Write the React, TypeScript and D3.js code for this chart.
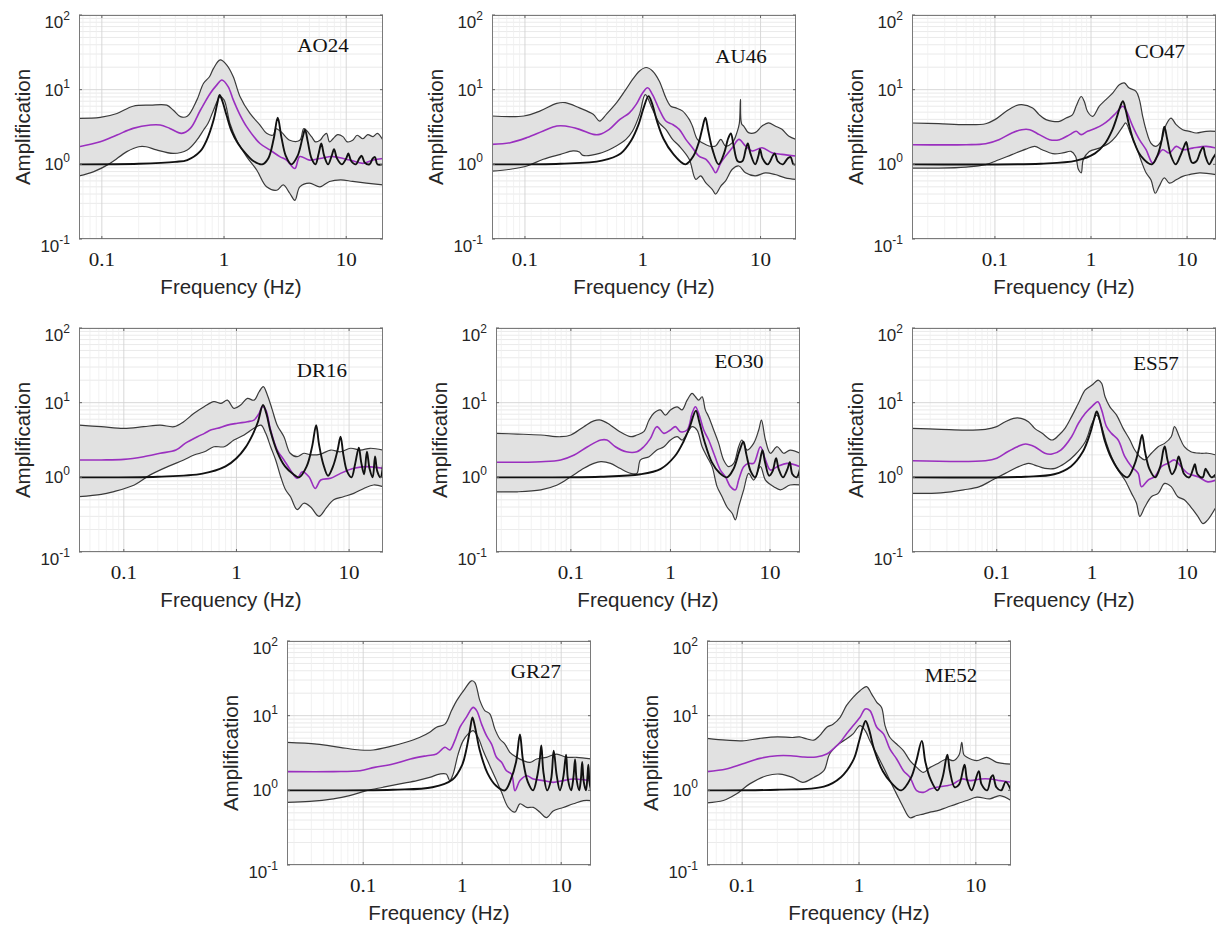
import React from "react";
import * as d3 from "d3";

type Pt = [number, number];

// ---------- shared axis content ----------
const stationNames = ["AO24", "AU46", "CO47", "DR16", "EO30", "ES57", "GR27", "ME52"];
const xTickValues = [0.1, 1, 10];
const xTickLabels = ["0.1", "1", "10"];
const yTickExponents = [-1, 0, 1, 2];
const yDomain: [number, number] = [0.1, 100];
const xDomainStarts = [0.065, 0.0525, 0.0137, 0.04, 0.0177, 0.0129, 0.017, 0.05];
const xDomainEnd = 20;
const xAxisTitle = "Frequency (Hz)";
const yAxisTitle = "Amplification";

// ---------- AO24 ----------
const AO24_upper: Pt[] = [[0.065,4.13],[0.097,4.25],[0.133,4.8],[0.18,6.0],[0.25,6.2],[0.34,6.2],[0.385,5.3],[0.44,4.35],[0.5,4.4],[0.6,7.3],[0.68,12.2],[0.76,14.9],[0.82,19.3],[0.93,25],[1.05,21.5],[1.19,14.9],[1.35,8.1],[1.63,4.8],[1.97,3.36],[2.23,2.6],[2.53,2.47],[2.65,3.0],[2.95,2.7],[3.45,2.1],[4.17,2.1],[4.5,3.0],[5.2,2.35],[5.6,2.0],[6.1,2.1],[6.5,2.4],[6.9,2.6],[7.3,2.0],[7.8,2.2],[8.5,2.5],[9.4,2.35],[10.2,2.0],[11.3,2.1],[12.3,2.45],[13.7,2.2],[15,2.5],[16.6,2.35],[18,2.6],[20,2.1]];
const AO24_lower: Pt[] = [[0.065,0.70],[0.086,0.80],[0.117,1.03],[0.16,1.48],[0.2,1.72],[0.23,1.72],[0.28,1.56],[0.385,1.40],[0.5,1.56],[0.6,2.12],[0.68,2.88],[0.74,3.54],[0.82,5.3],[0.93,8.06],[1.0,7.3],[1.12,3.5],[1.27,2.1],[1.53,1.27],[1.85,0.84],[2.23,0.5],[2.7,0.45],[3.05,0.53],[3.45,0.41],[3.8,0.33],[4.17,0.5],[5.0,0.56],[6.1,0.5],[7.3,0.59],[9.0,0.62],[11.3,0.59],[14.6,0.56],[20,0.53]];
const AO24_median: Pt[] = [[0.065,1.72],[0.097,2.0],[0.133,2.47],[0.18,3.03],[0.25,3.36],[0.3,3.36],[0.36,3.03],[0.45,2.6],[0.53,3.03],[0.64,5.3],[0.77,8.9],[0.87,11.5],[0.96,13.5],[1.08,11],[1.19,7.3],[1.35,4.6],[1.53,3.2],[1.97,1.9],[2.37,1.56],[2.86,1.27],[3.25,1.14],[3.8,0.88],[4.17,1.27],[5.0,1.14],[6.1,1.2],[7.8,1.27],[10.7,1.14],[13.7,1.03],[16.6,1.14],[20,1.2]];
const AO24_theory: Pt[] = [[0.065,1.0],[0.2,1.02],[0.4,1.08],[0.5,1.14],[0.64,1.5],[0.72,2.1],[0.82,3.9],[0.88,6.5],[0.92,8.5],[0.97,7],[1.05,4.5],[1.15,2.8],[1.3,1.9],[1.5,1.4],[1.75,1.1],[2.05,1.0],[2.3,1.2],[2.55,2.2],[2.75,4.2],[2.95,2.3],[3.2,1.3],[3.55,1.0],[4.0,1.3],[4.4,2.3],[4.6,2.9],[4.85,2.0],[5.2,1.2],[5.6,1.0],[5.95,1.4],[6.25,1.9],[6.6,1.3],[7.1,1.0],[7.6,1.3],[7.95,1.6],[8.4,1.2],[9.2,1.0],[10.0,1.2],[10.4,1.4],[11,1.1],[12,1.0],[12.8,1.2],[13.4,1.3],[14.2,1.05],[15.5,1.0],[16.5,1.2],[17.2,1.25],[18,1.0],[20,1.0]];

// ---------- AU46 ----------
const AU46_upper: Pt[] = [[0.0525,4.44],[0.098,4.44],[0.135,5.2],[0.186,6.55],[0.22,6.7],[0.29,5.7],[0.38,4.67],[0.43,3.8],[0.49,4.67],[0.6,6.7],[0.72,10.1],[0.82,13.7],[0.94,17.8],[1.07,19.8],[1.21,17.8],[1.38,13.1],[1.57,7.8],[1.73,6.0],[1.91,5.7],[2.17,5.2],[2.48,4.0],[2.64,3.26],[2.91,2.16],[3.2,1.95],[3.65,1.76],[4.15,1.76],[4.6,2.16],[5.05,1.76],[5.76,1.95],[6.3,2.66],[6.6,3.5],[6.75,7.4],[6.9,3.5],[7.2,3.26],[7.9,2.66],[9.0,2.66],[10.3,3.26],[11.7,3.6],[13.3,3.26],[15.2,2.94],[17.3,2.4],[20,2.16]];
const AU46_lower: Pt[] = [[0.0525,0.81],[0.075,0.86],[0.104,0.95],[0.143,1.17],[0.2,1.36],[0.256,1.51],[0.29,1.46],[0.31,1.32],[0.43,1.4],[0.56,1.67],[0.72,2.16],[0.82,2.8],[0.94,4.67],[1.05,8.6],[1.21,5.45],[1.38,3.6],[1.57,2.94],[1.79,2.16],[2.04,1.76],[2.48,1.17],[2.82,0.63],[3.1,0.7],[3.42,0.57],[3.9,0.46],[4.15,0.4],[4.6,0.51],[5.05,0.6],[5.76,0.86],[6.55,0.95],[7.45,0.77],[9.0,0.7],[11,0.77],[13.3,0.73],[16.2,0.66],[20,0.63]];
const AU46_median: Pt[] = [[0.0525,1.85],[0.075,1.95],[0.104,2.28],[0.143,2.8],[0.186,3.26],[0.22,3.26],[0.29,2.94],[0.38,2.52],[0.43,2.52],[0.52,2.94],[0.64,4.0],[0.77,4.9],[0.88,6.35],[1.0,9.1],[1.1,10.6],[1.21,8.6],[1.38,5.45],[1.57,3.8],[1.79,3.43],[2.04,2.94],[2.32,2.16],[2.64,1.67],[3.0,1.29],[3.42,1.17],[3.9,0.9],[4.15,0.77],[4.6,1.05],[5.05,1.29],[5.76,1.67],[6.55,2.16],[7.45,1.76],[8.5,1.51],[10.3,1.67],[12.5,1.43],[15.2,1.36],[20,1.29]];
const AU46_theory: Pt[] = [[0.0525,1.0],[0.2,1.02],[0.45,1.12],[0.65,1.4],[0.8,2.1],[0.92,3.4],[1.02,5.8],[1.12,8.2],[1.2,6.5],[1.32,3.8],[1.5,2.2],[1.8,1.4],[2.3,1.0],[2.7,1.3],[3.0,2.0],[3.2,3.0],[3.4,4.2],[3.6,2.8],[3.9,1.6],[4.4,1.0],[4.9,1.4],[5.3,2.2],[5.6,2.6],[5.9,1.8],[6.4,1.1],[7.0,1.1],[7.5,1.6],[7.8,1.9],[8.2,1.4],[9.0,1.0],[9.6,1.3],[9.9,1.6],[10.4,1.2],[11.5,1.0],[12.7,1.3],[13.2,1.4],[14,1.1],[15.5,1.0],[17,1.2],[18,1.25],[19,1.0],[20,1.0]];

// ---------- CO47 ----------
const CO47_upper: Pt[] = [[0.0137,3.58],[0.026,3.5],[0.05,3.4],[0.08,3.5],[0.1,3.97],[0.13,5.1],[0.165,6.1],[0.19,6.3],[0.247,5.67],[0.29,4.6],[0.34,3.97],[0.4,3.77],[0.47,3.77],[0.55,4.17],[0.64,4.6],[0.7,6.0],[0.79,8.1],[0.85,7.0],[0.92,5.1],[1.04,4.4],[1.22,6.0],[1.43,7.35],[1.68,9.0],[1.97,11.6],[2.22,12.3],[2.5,10.5],[2.94,9.5],[3.19,7.35],[3.45,4.4],[3.74,2.9],[4.2,1.93],[4.74,1.74],[5.35,2.03],[6.05,3.4],[6.8,4.17],[7.7,3.4],[9.0,2.9],[10.6,2.77],[12.4,2.63],[15.8,2.77],[20,2.77]];
const CO47_lower: Pt[] = [[0.0137,0.89],[0.026,0.89],[0.05,0.92],[0.08,0.99],[0.11,1.15],[0.15,1.35],[0.21,1.6],[0.26,1.74],[0.31,1.57],[0.4,1.39],[0.51,1.42],[0.62,1.49],[0.69,1.28],[0.74,0.85],[0.79,0.77],[0.83,1.15],[0.96,1.49],[1.22,1.65],[1.55,1.93],[1.82,2.37],[2.14,3.2],[2.3,3.58],[2.6,2.5],[2.94,1.74],[3.3,1.15],[3.74,0.77],[4.2,0.62],[4.67,0.41],[5.13,0.51],[5.8,0.66],[6.55,0.56],[7.7,0.62],[9,0.69],[10.6,0.73],[13.5,0.77],[20,0.73]];
const CO47_median: Pt[] = [[0.0137,1.83],[0.05,1.83],[0.08,1.89],[0.11,2.14],[0.15,2.63],[0.19,2.91],[0.23,2.91],[0.29,2.5],[0.37,2.14],[0.47,2.14],[0.6,2.5],[0.7,2.77],[0.79,2.5],[0.92,2.77],[1.13,3.06],[1.32,3.4],[1.55,3.97],[1.82,4.87],[2.14,6.0],[2.3,5.4],[2.72,3.23],[3.19,2.14],[3.74,1.57],[4.38,1.04],[4.9,1.28],[5.57,1.57],[6.55,1.42],[7.7,1.74],[9,1.57],[11.4,1.65],[15.8,1.74],[20,1.65]];
const CO47_theory: Pt[] = [[0.0137,1.0],[0.3,1.02],[0.7,1.12],[1.1,1.4],[1.4,1.9],[1.65,2.8],[1.85,4.2],[2.0,5.8],[2.15,7.0],[2.3,5.3],[2.5,3.3],[2.8,2.0],[3.3,1.3],[4.3,1.0],[4.9,1.3],[5.4,2.0],[5.8,3.2],[6.2,2.2],[6.8,1.3],[7.6,1.0],[8.5,1.3],[9.4,1.8],[9.8,2.0],[10.3,1.5],[11.3,1.05],[12.5,1.1],[13.8,1.5],[14.7,1.7],[15.5,1.3],[17,1.0],[18.5,1.2],[20,1.4]];

// ---------- DR16 ----------
const DR16_upper: Pt[] = [[0.04,5.0],[0.063,4.77],[0.1,4.53],[0.15,4.77],[0.21,5.0],[0.28,4.77],[0.34,5.56],[0.42,7.2],[0.52,8.9],[0.63,10.3],[0.73,9.8],[0.83,10.8],[0.95,8.4],[1.09,9.3],[1.25,11.4],[1.43,10.8],[1.59,14.0],[1.73,16.4],[1.88,12.7],[2.08,8.0],[2.3,5.0],[2.64,3.5],[3.0,2.1],[3.46,1.89],[3.97,2.1],[4.56,2.0],[5.6,2.05],[6.85,2.32],[8.4,2.2],[10.3,2.45],[12.6,2.32],[15.4,2.45],[20,2.32]];
const DR16_lower: Pt[] = [[0.04,0.55],[0.063,0.59],[0.08,0.64],[0.124,0.79],[0.17,1.07],[0.245,1.39],[0.34,1.71],[0.42,1.99],[0.52,2.2],[0.63,2.57],[0.78,2.57],[0.95,3.16],[1.17,3.69],[1.43,4.53],[1.65,5.0],[1.82,3.88],[2.01,2.57],[2.23,1.71],[2.47,1.02],[2.73,0.68],[3.02,0.55],[3.46,0.37],[3.97,0.45],[4.56,0.4],[5.4,0.3],[6.35,0.4],[7.3,0.5],[8.9,0.55],[11,0.61],[13.5,0.71],[16.5,0.79],[20,0.75]];
const DR16_median: Pt[] = [[0.04,1.71],[0.063,1.71],[0.1,1.74],[0.15,1.89],[0.21,2.1],[0.29,2.32],[0.35,2.85],[0.45,3.5],[0.52,3.88],[0.59,4.3],[0.68,4.53],[0.83,5.0],[1.02,5.3],[1.25,5.56],[1.43,5.85],[1.59,7.2],[1.7,8.9],[1.82,8.0],[2.01,4.3],[2.3,2.32],[2.64,1.71],[3.02,1.25],[3.46,0.97],[3.84,1.19],[4.4,1.02],[5.0,0.71],[5.6,0.92],[6.85,0.97],[8.4,1.13],[11,1.32],[14.4,1.39],[20,1.32]];
const DR16_theory: Pt[] = [[0.04,1.0],[0.2,1.02],[0.5,1.12],[0.8,1.4],[1.0,1.8],[1.2,2.5],[1.4,3.8],[1.55,5.5],[1.72,9.3],[1.85,7],[2.0,4.2],[2.3,2.2],[2.7,1.4],[3.2,1.1],[3.6,1.0],[4.2,1.4],[4.7,2.6],[5.1,5.0],[5.4,2.8],[5.9,1.5],[6.5,1.05],[7.2,1.4],[7.9,2.3],[8.4,3.5],[8.9,2.0],[9.6,1.2],[10.5,1.0],[11.3,1.5],[12.2,2.5],[12.8,1.6],[13.6,1.1],[14.4,2.2],[15.2,1.3],[16.2,1.0],[17,1.9],[17.8,1.2],[19,1.0],[20,1.5]];

// ---------- EO30 ----------
const EO30_upper: Pt[] = [[0.0177,3.88],[0.029,3.8],[0.05,3.69],[0.079,3.5],[0.1,3.69],[0.135,4.77],[0.17,5.7],[0.2,5.85],[0.25,5.0],[0.31,4.09],[0.4,3.5],[0.46,3.69],[0.54,4.09],[0.61,5.85],[0.68,7.2],[0.79,8.0],[0.89,6.8],[1.0,8.0],[1.17,8.8],[1.31,8.0],[1.47,10.8],[1.65,13.3],[1.78,12.0],[1.92,10.8],[2.08,12.0],[2.24,8.0],[2.42,6.5],[2.72,4.3],[3.05,2.85],[3.42,1.71],[3.84,1.39],[4.32,1.54],[4.84,2.57],[5.22,3.16],[5.87,2.32],[6.85,2.85],[7.7,4.3],[8.2,5.85],[9.0,3.16],[10.1,2.1],[11.8,2.57],[13.7,2.1],[15.9,2.32],[20,2.1]];
const EO30_lower: Pt[] = [[0.0177,0.64],[0.029,0.64],[0.05,0.68],[0.073,0.79],[0.1,1.02],[0.135,1.32],[0.17,1.54],[0.2,1.62],[0.25,1.54],[0.31,1.32],[0.4,1.13],[0.46,1.13],[0.5,1.71],[0.61,1.89],[0.73,2.32],[0.86,2.57],[1.0,3.16],[1.17,3.5],[1.31,3.16],[1.47,3.88],[1.65,4.77],[1.85,4.3],[2.08,2.57],[2.33,1.89],[2.62,1.39],[2.94,0.75],[3.3,0.55],[3.7,0.4],[4.16,0.33],[4.49,0.27],[4.84,0.4],[5.44,0.68],[6.1,1.13],[6.85,0.92],[8.0,1.39],[9.0,0.92],[10.9,0.75],[12.7,0.68],[15.9,0.79],[20,0.79]];
const EO30_median: Pt[] = [[0.0177,1.59],[0.05,1.62],[0.079,1.71],[0.108,1.99],[0.147,2.57],[0.2,3.16],[0.23,3.16],[0.28,2.57],[0.36,2.2],[0.46,2.2],[0.54,2.57],[0.63,3.33],[0.73,4.77],[0.86,3.88],[1.0,4.3],[1.12,4.77],[1.26,4.09],[1.47,4.3],[1.65,7.2],[1.78,8.8],[1.92,7.2],[2.16,4.3],[2.42,3.16],[2.72,2.1],[3.17,1.25],[3.56,1.02],[4.0,0.75],[4.49,0.68],[4.84,0.92],[5.44,1.39],[6.1,1.54],[6.85,1.54],[8.0,2.57],[9.0,1.71],[10.1,1.25],[11.8,1.39],[14.8,1.54],[20,1.39]];
const EO30_theory: Pt[] = [[0.0177,1.0],[0.2,1.02],[0.5,1.1],[0.8,1.3],[1.1,1.9],[1.35,3.0],[1.55,4.6],[1.8,7.8],[1.95,5.5],[2.2,3.0],[2.6,1.6],[3.1,1.15],[3.7,1.0],[4.3,1.3],[4.9,2.2],[5.4,3.0],[5.8,2.0],[6.4,1.2],[7.1,1.0],[7.8,1.5],[8.4,2.3],[8.9,1.6],[9.8,1.05],[10.6,1.2],[11.5,1.8],[12.2,1.3],[13.5,1.0],[15,1.3],[15.8,1.6],[16.8,1.1],[18.5,1.0],[20,1.3]];

// ---------- ES57 ----------
const ES57_upper: Pt[] = [[0.0129,4.53],[0.026,4.4],[0.047,4.3],[0.076,4.4],[0.1,4.77],[0.123,5.56],[0.15,6.17],[0.18,6.17],[0.215,5.56],[0.25,4.53],[0.3,3.88],[0.38,3.16],[0.45,3.69],[0.52,4.53],[0.61,6.5],[0.72,9.8],[0.85,14.8],[1.0,17.2],[1.16,20.1],[1.26,18.2],[1.37,12.0],[1.54,8.8],[1.81,6.8],[2.12,4.53],[2.5,3.16],[2.81,2.32],[3.17,1.89],[3.58,1.71],[4.2,2.1],[4.94,2.57],[5.78,2.85],[6.78,3.5],[7.34,4.77],[8.25,3.5],[9.3,2.57],[10.9,2.2],[13.8,2.1],[16.4,2.1],[20,1.99]];
const ES57_lower: Pt[] = [[0.0129,0.61],[0.026,0.62],[0.045,0.68],[0.066,0.75],[0.09,0.92],[0.123,1.13],[0.17,1.39],[0.215,1.54],[0.25,1.46],[0.32,1.32],[0.41,1.32],[0.52,1.54],[0.66,1.99],[0.85,3.0],[1.0,5.3],[1.12,6.8],[1.26,4.77],[1.42,2.85],[1.6,1.89],[1.88,1.25],[2.21,0.92],[2.6,0.61],[2.93,0.45],[3.17,0.3],[3.58,0.4],[4.2,0.55],[4.94,0.61],[5.78,0.83],[6.78,0.75],[7.95,0.55],[9.3,0.5],[10.9,0.4],[12.9,0.3],[14.6,0.24],[16.4,0.27],[20,0.4]];
const ES57_median: Pt[] = [[0.0129,1.67],[0.076,1.67],[0.1,1.8],[0.13,2.2],[0.165,2.57],[0.2,2.8],[0.25,2.57],[0.32,2.1],[0.38,2.05],[0.47,2.32],[0.61,3.5],[0.72,5.3],[0.85,7.2],[1.0,8.9],[1.15,10.3],[1.26,8.0],[1.42,4.77],[1.6,3.88],[1.88,3.16],[2.21,1.89],[2.6,1.39],[3.05,1.13],[3.3,0.75],[3.88,0.92],[4.55,1.02],[5.35,1.39],[6.27,1.54],[7.34,1.71],[8.6,1.39],[10.1,1.13],[12.9,1.02],[16.4,0.87],[20,0.92]];
const ES57_theory: Pt[] = [[0.0129,1.0],[0.2,1.02],[0.4,1.1],[0.6,1.4],[0.8,2.2],[0.95,3.8],[1.05,6],[1.12,7.6],[1.2,6],[1.35,3.2],[1.6,1.8],[2.0,1.15],[2.35,1.0],[2.8,1.5],[3.1,2.4],[3.35,3.7],[3.6,2.2],[4.0,1.3],[4.6,1.0],[5.2,1.4],[5.6,2.3],[5.8,2.6],[6.2,1.7],[6.9,1.1],[7.5,1.3],[8.1,1.9],[8.5,1.6],[9.3,1.1],[10.5,1.0],[11.5,1.3],[12,1.5],[12.8,1.1],[14.5,1.0],[15.5,1.3],[16.2,1.2],[18,1.0],[20,1.1]];

// ---------- GR27 ----------
const GR27_upper: Pt[] = [[0.017,4.4],[0.034,4.17],[0.058,3.77],[0.093,3.47],[0.126,3.47],[0.185,3.84],[0.27,4.4],[0.37,5.1],[0.47,6.0],[0.55,7.0],[0.67,7.7],[0.78,11.7],[0.88,15.9],[1.06,22.7],[1.24,29.3],[1.34,28.0],[1.51,15.9],[1.69,11.7],[1.9,10.6],[2.14,6.6],[2.4,4.87],[2.7,4.17],[3.03,3.23],[3.54,2.77],[4.14,2.5],[4.84,2.37],[5.66,2.63],[7.1,2.77],[9.0,3.06],[11.3,2.77],[14.3,2.77],[20,2.63]];
const GR27_lower: Pt[] = [[0.017,0.69],[0.029,0.71],[0.05,0.77],[0.073,0.85],[0.108,0.99],[0.159,1.1],[0.235,1.22],[0.35,1.35],[0.47,1.49],[0.59,1.65],[0.69,1.65],[0.75,1.35],[0.81,1.65],[0.91,3.06],[1.02,4.6],[1.15,5.7],[1.29,6.3],[1.45,5.1],[1.63,3.4],[1.9,2.14],[2.22,1.35],[2.5,0.94],[2.92,0.59],[3.41,0.51],[3.83,0.66],[4.48,0.59],[5.23,0.59],[6.1,0.51],[7.1,0.43],[8.3,0.53],[10.5,0.59],[13.3,0.66],[16.8,0.73],[20,0.73]];
const GR27_median: Pt[] = [[0.017,1.78],[0.05,1.78],[0.093,1.83],[0.13,2.03],[0.2,2.25],[0.3,2.63],[0.44,2.91],[0.55,3.06],[0.67,3.77],[0.75,3.47],[0.84,4.6],[0.95,7.0],[1.1,9.5],[1.29,12.9],[1.4,11.7],[1.57,7.7],[1.76,5.4],[1.98,4.17],[2.22,2.77],[2.5,2.37],[2.8,1.83],[3.15,1.65],[3.41,0.99],[3.83,1.35],[4.48,1.57],[5.23,1.42],[6.6,1.35],[8.3,1.28],[10.5,1.35],[13.3,1.42],[20,1.35]];
const GR27_theory: Pt[] = [[0.017,1.0],[0.2,1.02],[0.5,1.1],[0.8,1.4],[1.0,2.2],[1.1,3.5],[1.2,6.5],[1.27,9.5],[1.35,7],[1.5,3.5],[1.8,1.7],[2.2,1.15],[2.7,1.0],[3.1,1.4],[3.5,2.4],[3.83,5.6],[4.1,2.6],[4.6,1.3],[5.2,1.0],[5.7,1.5],[6.05,2.5],[6.3,4.0],[6.6,1.8],[7.2,1.0],[7.9,1.4],[8.4,3.4],[9.0,1.6],[9.7,1.0],[10.5,1.5],[11.2,3.0],[11.7,1.4],[12.6,1.0],[13.3,1.5],[13.8,2.6],[14.3,1.4],[15.2,1.0],[15.8,1.4],[16.3,2.4],[16.9,1.3],[17.8,1.0],[18.4,1.5],[18.8,2.2],[19.3,1.3],[20,1.0]];

// ---------- ME52 ----------
const ME52_upper: Pt[] = [[0.05,4.97],[0.073,4.7],[0.1,4.6],[0.142,4.97],[0.2,5.2],[0.27,5.1],[0.31,5.2],[0.36,4.87],[0.41,4.7],[0.46,5.4],[0.53,7.0],[0.6,7.7],[0.69,9.5],[0.78,13.6],[0.89,17.6],[1.02,21.6],[1.16,24.5],[1.28,19.6],[1.42,15.1],[1.56,12.9],[1.67,7.35],[1.84,5.1],[2.1,4.17],[2.4,3.4],[2.73,2.5],[3.12,2.03],[3.56,1.74],[4.06,2.03],[4.63,2.25],[5.63,2.63],[6.43,2.5],[7.2,3.0],[7.58,4.4],[7.9,3.0],[8.4,2.77],[10.2,2.5],[12.4,2.77],[15.1,2.37],[20,2.25]];
const ME52_lower: Pt[] = [[0.05,0.68],[0.069,0.73],[0.089,0.89],[0.116,1.22],[0.162,1.57],[0.21,1.65],[0.27,1.49],[0.33,1.28],[0.41,1.49],[0.5,1.83],[0.56,3.06],[0.67,4.17],[0.78,4.87],[0.89,5.7],[1.02,7.35],[1.13,6.3],[1.24,4.6],[1.42,3.06],[1.62,2.03],[1.84,1.35],[2.1,0.89],[2.4,0.59],[2.73,0.43],[3.12,0.46],[3.56,0.48],[4.06,0.51],[4.63,0.53],[5.63,0.59],[6.88,0.66],[8.4,0.73],[10.2,0.81],[13.2,0.77],[16.1,0.85],[20,0.73]];
const ME52_median: Pt[] = [[0.05,1.78],[0.073,1.93],[0.1,2.25],[0.142,2.68],[0.2,2.91],[0.26,2.91],[0.33,2.8],[0.43,2.8],[0.53,3.06],[0.6,3.56],[0.69,4.4],[0.78,5.7],[0.89,7.35],[1.02,9.5],[1.13,12.3],[1.24,11.7],[1.42,7.0],[1.62,5.7],[1.84,3.56],[2.1,2.63],[2.4,1.83],[2.73,1.49],[3.12,0.99],[3.56,0.94],[4.06,1.04],[4.63,1.1],[5.63,1.15],[6.43,1.22],[7.58,1.42],[9.0,1.35],[11,1.42],[13.2,1.42],[16.1,1.35],[20,1.28]];
const ME52_theory: Pt[] = [[0.05,1.0],[0.2,1.02],[0.5,1.12],[0.7,1.5],[0.9,2.6],[1.0,4.5],[1.08,7],[1.14,8.5],[1.22,6.5],[1.35,3.5],[1.6,1.8],[1.9,1.25],[2.3,1.0],[2.8,1.5],[3.1,2.5],[3.45,4.6],[3.7,2.4],[4.1,1.4],[4.7,1.0],[5.2,1.5],[5.7,3.0],[6.0,1.8],[6.6,1.1],[7.2,1.2],[8.0,2.2],[8.4,1.4],[9.2,1.0],[10.6,1.8],[11.2,1.2],[12.5,1.0],[13.5,1.5],[14,1.6],[15,1.1],[16.5,1.0],[18,1.3],[20,1.0]];

const upperSeries = [AO24_upper, AU46_upper, CO47_upper, DR16_upper, EO30_upper, ES57_upper, GR27_upper, ME52_upper];
const lowerSeries = [AO24_lower, AU46_lower, CO47_lower, DR16_lower, EO30_lower, ES57_lower, GR27_lower, ME52_lower];
const medianSeries = [AO24_median, AU46_median, CO47_median, DR16_median, EO30_median, ES57_median, GR27_median, ME52_median];
const theorySeries = [AO24_theory, AU46_theory, CO47_theory, DR16_theory, EO30_theory, ES57_theory, GR27_theory, ME52_theory];

// ---------- layout (pixels) ----------
const PANEL_W = 304;
const PANEL_H = 224;
const panelPos = [
  { x: 79, y: 15, lx: 60, ly: 37 },
  { x: 492, y: 15, lx: 55, ly: 48 },
  { x: 912, y: 15, lx: 56, ly: 43 },
  { x: 79, y: 328, lx: 61, ly: 49 },
  { x: 496, y: 328, lx: 61, ly: 40 },
  { x: 912, y: 328, lx: 60, ly: 42 },
  { x: 287, y: 641, lx: 55, ly: 37 },
  { x: 707, y: 641, lx: 60, ly: 41 },
];

const SANS = "'Liberation Sans', Arial, Helvetica, sans-serif";
const SERIF = "'Liberation Serif', 'Times New Roman', serif";
const SERIF_STRETCH = 1.17;

function Panel({ i }: { i: number }) {
  const P = panelPos[i];
  const x0 = xDomainStarts[i];
  const x = d3.scaleLog().domain([x0, xDomainEnd]).range([P.x, P.x + PANEL_W]);
  const y = d3.scaleLog().domain(yDomain).range([P.y + PANEL_H, P.y]);
  const line = d3
    .line<Pt>()
    .x((d) => x(d[0]))
    .y((d) => y(d[1]))
    .curve(d3.curveCatmullRom.alpha(0.5));
  const upper = upperSeries[i];
  const lower = lowerSeries[i];
  const bandPath = (line(upper) || "") + "L" + (line(lower.slice().reverse()) || "").slice(1) + "Z";

  const xMinor: number[] = [];
  for (let e = Math.floor(Math.log10(x0)); e <= 1; e++) {
    for (let m = 2; m <= 9; m++) {
      const v = m * Math.pow(10, e);
      if (v > x0 && v < xDomainEnd) xMinor.push(v);
    }
  }
  const yMinor: number[] = [];
  for (let e = -1; e < 2; e++) for (let m = 2; m <= 9; m++) yMinor.push(m * Math.pow(10, e));
  const yMajor = yTickExponents.map((e) => Math.pow(10, e));
  const clipId = `clip-${i}`;
  const left = P.x, right = P.x + PANEL_W, top = P.y, bottom = P.y + PANEL_H;
  const cx = P.x + PANEL_W / 2;
  const cy = P.y + PANEL_H / 2;

  return (
    <g>
      <defs>
        <clipPath id={clipId}>
          <rect x={left} y={top} width={PANEL_W} height={PANEL_H} />
        </clipPath>
      </defs>
      <rect x={left} y={top} width={PANEL_W} height={PANEL_H} fill="#fff" />
      {yMinor.map((v, k) => (
        <line key={"ym" + k} x1={left} x2={right} y1={y(v)} y2={y(v)} stroke="#e4e4e4" strokeWidth={0.8} />
      ))}
      {xMinor.map((v, k) => (
        <line key={"xm" + k} x1={x(v)} x2={x(v)} y1={top} y2={bottom} stroke="#efefef" strokeWidth={0.8} />
      ))}
      {yMajor.map((v, k) => (
        <line key={"yM" + k} x1={left} x2={right} y1={y(v)} y2={y(v)} stroke="#d4d4d4" strokeWidth={0.9} />
      ))}
      {xTickValues.map((v, k) => (
        <line key={"xM" + k} x1={x(v)} x2={x(v)} y1={top} y2={bottom} stroke="#d4d4d4" strokeWidth={0.9} />
      ))}
      <g clipPath={`url(#${clipId})`}>
        <path d={bandPath} fill="#e1e1e1" stroke="none" />
        <path d={line(upper) || ""} fill="none" stroke="#3a3a3a" strokeWidth={1.2} />
        <path d={line(lower) || ""} fill="none" stroke="#3a3a3a" strokeWidth={1.2} />
        <path d={line(medianSeries[i]) || ""} fill="none" stroke="#9a2fbf" strokeWidth={1.6} />
        <path d={line(theorySeries[i]) || ""} fill="none" stroke="#111" strokeWidth={1.9} />
      </g>
      <rect x={left + 0.5} y={top + 0.5} width={PANEL_W - 1} height={PANEL_H - 1} fill="none" stroke="#7a7a7a" strokeWidth={1} />
      {xTickValues.map((v, k) => (
        <g key={"xt" + k}>
          <line x1={x(v)} x2={x(v)} y1={bottom} y2={bottom - 3} stroke="#666" />
          <line x1={x(v)} x2={x(v)} y1={top} y2={top + 3} stroke="#666" />
          <g transform={`translate(${x(v)},${bottom + 27}) scale(${SERIF_STRETCH},1)`}>
            <text textAnchor="middle" fontFamily={SERIF} fontSize={18} fill="#1a1a1a">
              {xTickLabels[k]}
            </text>
          </g>
        </g>
      ))}
      {yTickExponents.map((e, k) => {
        const ty = y(Math.pow(10, e));
        const off = k === 0 || k === yTickExponents.length - 1 ? 7 : 0;
        return (
          <g key={"yt" + k}>
            <line x1={left} x2={left + 3} y1={ty} y2={ty} stroke="#666" />
            <line x1={right} x2={right - 3} y1={ty} y2={ty} stroke="#666" />
            <text x={left - 9} y={ty + off + 6} textAnchor="end" fontFamily={SANS} fontSize={17} fill="#262626">
              10
              <tspan fontSize={12} dy={-8}>{String(e)}</tspan>
            </text>
          </g>
        );
      })}
      <text
        transform={`translate(${left - 56},${cy}) rotate(-90)`}
        textAnchor="middle"
        dy="0.35em"
        fontFamily={SANS}
        fontSize={20.5}
        fill="#262626"
      >
        {yAxisTitle}
      </text>
      <text x={cx} y={bottom + 55} textAnchor="middle" fontFamily={SANS} fontSize={20.5} fill="#262626">
        {xAxisTitle}
      </text>
      <g transform={`translate(${right - P.lx},${top + P.ly}) scale(${SERIF_STRETCH},1)`}>
        <text textAnchor="middle" fontFamily={SERIF} fontSize={18} fill="#111">
          {stationNames[i]}
        </text>
      </g>
    </g>
  );
}

export default function App() {
  return (
    <svg
      width={1216}
      height={932}
      viewBox="0 0 1216 932"
      style={{ position: "absolute", left: 0, top: 0, background: "#fff" }}
    >
      <rect x={0} y={0} width={1216} height={932} fill="#fff" />
      {stationNames.map((_, i) => (
        <Panel key={i} i={i} />
      ))}
    </svg>
  );
}
